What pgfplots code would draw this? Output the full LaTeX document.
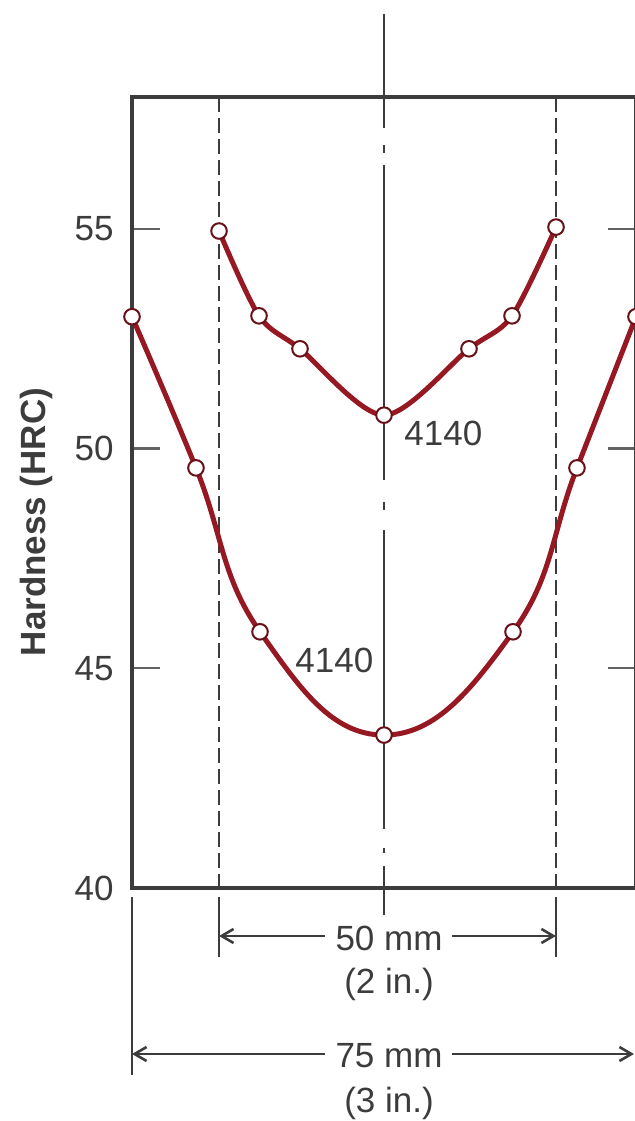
\documentclass[border=0pt]{standalone}
\usepackage{pgfplots}
\pgfplotsset{compat=1.18}
\usepackage{fontspec}
\setmainfont{Liberation Sans}
\usetikzlibrary{arrows.meta}
\definecolor{curve}{RGB}{150,24,34}
\definecolor{ink}{RGB}{60,60,60}
\begin{document}
\begin{tikzpicture}[font=\fontsize{17.5bp}{21bp}\selectfont]
\useasboundingbox (0,0) rectangle (317.5bp,560.5bp);
\clip (0,0) rectangle (317.5bp,560.5bp);
\begin{scope}[x=0.5bp,y=-0.5bp,shift={(0,-1121)}]
  % centre line (long dash - dot)
  \draw[ink, line width=1.2bp] (384,14)--(384,128) (384,145)--(384,153) (384,165)--(384,480)
     (384,502)--(384,510) (384,530)--(384,829) (384,848)--(384,853) (384,866)--(384,915);
  % 50 mm dashed lines
  \draw[ink, line width=1.3bp, dash pattern=on 7.5bp off 3bp] (219,97)--(219,888) (556,97)--(556,888);
  % extension lines
  \draw[ink, line width=1.3bp] (219,897)--(219,957) (556,897)--(556,957) (132,897)--(132,1075);
  % dimension arrows
  \draw[ink, line width=1.3bp, -{Straight Barb[length=6bp,width=7bp]}] (325,936)--(219,936);
  \draw[ink, line width=1.3bp, -{Straight Barb[length=6bp,width=7bp]}] (452,936)--(556,936);
  \draw[ink, line width=1.3bp, -{Straight Barb[length=6bp,width=7bp]}] (325,1054)--(132,1054);
  \draw[ink, line width=1.3bp, -{Straight Barb[length=6bp,width=7bp]}] (452,1054)--(634,1054);
  \node[anchor=base, text=ink, inner sep=0pt] at (389,950) {50 mm};
  \node[anchor=base, text=ink, inner sep=0pt] at (389,993) {(2 in.)};
  \node[anchor=base, text=ink, inner sep=0pt] at (389,1067) {75 mm};
  \node[anchor=base, text=ink, inner sep=0pt] at (389,1112) {(3 in.)};
  \node[rotate=90, font=\fontsize{17.5bp}{21bp}\selectfont\bfseries, text=ink, inner sep=0pt] at (36,522) {Hardness (HRC)};
  \node[anchor=west, text=ink, inner sep=0pt] at (404,433) {4140};
  \node[anchor=west, text=ink, inner sep=0pt] at (295,660) {4140};
\end{scope}
\begin{axis}[
  at={(66bp,116.5bp)}, anchor=south west,
  scale only axis, width=252bp, height=395.5bp,
  xmin=-37.5, xmax=37.5, ymin=40, ymax=58,
  xtick=\empty, ytick={40,45,50,55},
  tick align=inside, major tick length=14bp,
  axis line style={draw=ink, line width=1.6bp},
  ytick style={draw=ink!80, line width=1.2bp},
  yticklabel style={inner sep=0pt, xshift=-9bp, text=ink, font=\fontsize{17.5bp}{21bp}\selectfont},
  /pgf/number format/assume math mode=true,
  clip=false,
]
\addplot[curve, line width=2.5bp, smooth, tension=0.75, mark=*, mark size=3.9bp,
  mark options={fill=white, draw=curve!70!black, line width=1bp}]
  coordinates {(-37.5,53.0) (-27.98,49.56) (-18.45,45.83) (0,43.48) (19.2,45.83) (28.72,49.56) (37.5,53.0)};
\addplot[curve, line width=2.5bp, smooth, tension=0.5, mark=*, mark size=3.9bp,
  mark options={fill=white, draw=curve!70!black, line width=1bp}]
  coordinates {(-24.55,54.95) (-18.6,53.02) (-12.5,52.27) (0,50.76) (12.65,52.27) (19.05,53.02) (25.6,55.04)};
\end{axis}
\end{tikzpicture}
\end{document}
